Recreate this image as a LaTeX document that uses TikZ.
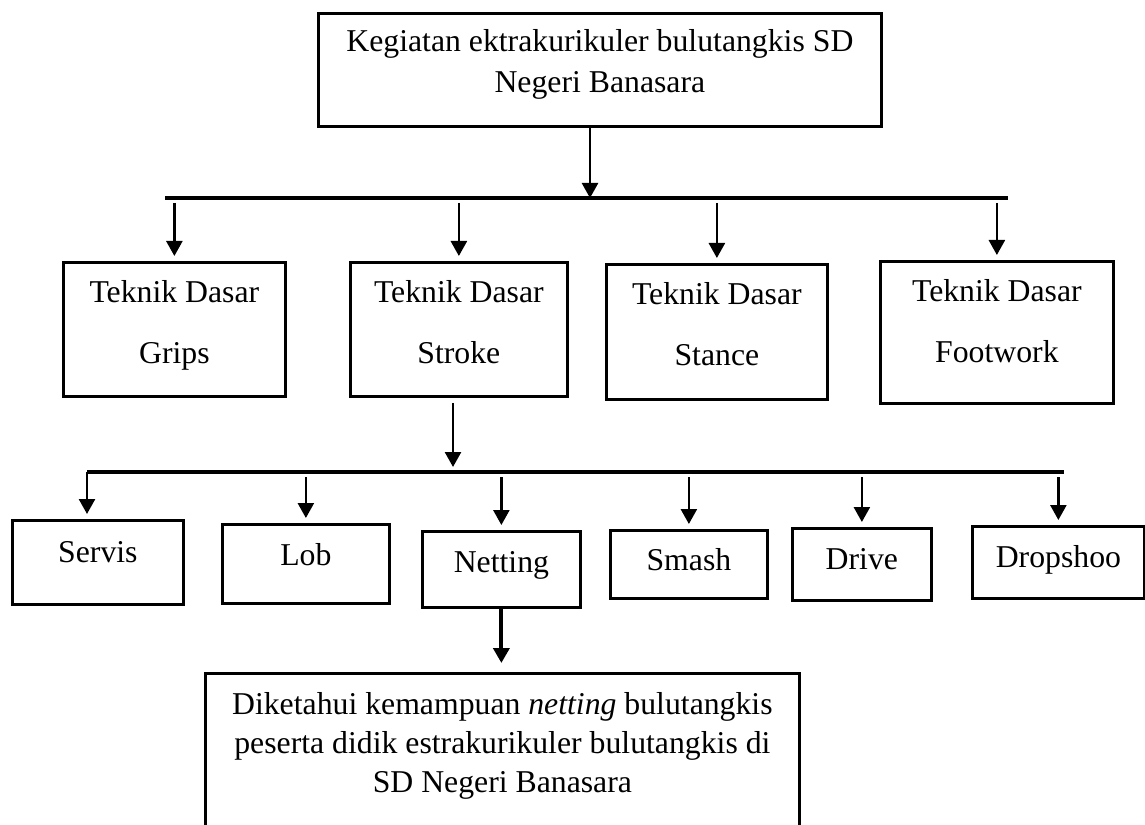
\documentclass[tikz,border=0pt]{standalone}
\usepackage{fontspec}
\setmainfont{Liberation Serif}
\usetikzlibrary{arrows.meta}

\newcommand{\boxlines}[1]{\begin{tabular}[t]{@{}c@{}}#1\end{tabular}}

\begin{document}
\begin{tikzpicture}[x=0.4pt, y=-0.4pt, >={Triangle[width=6.4pt,length=6pt]}]
    \tikzstyle{box}=[draw, line width=1.1pt, anchor=north west, inner sep=0pt, font=\fontsize{12.7}{24.4}\selectfont]
    \tikzstyle{arr}=[->, line width=1pt, shorten <=2pt, shorten >=2pt]
    \tikzstyle{bar}=[line width=1.7pt]

    \useasboundingbox (0,0) rectangle (1145,825);

    % Draw the top box
    \node[box, minimum width=225.2pt, text height=15.2pt, text depth=30pt, font=\fontsize{12.7}{16.4}\selectfont] (top) at (317,12)
        {\boxlines{Kegiatan ektrakurikuler bulutangkis SD\\Negeri Banasara}};

    % Draw the basic technique boxes
    \node[box, minimum width=88.8pt, text height=16pt, text depth=37.6pt] (grips) at (62,261) {\boxlines{Teknik Dasar\\Grips}};
    \node[box, minimum width=86.8pt, text height=16pt, text depth=37.6pt] (stroke) at (349,261) {\boxlines{Teknik Dasar\\Stroke}};
    \node[box, minimum width=88.4pt, text height=16pt, text depth=38pt] (stance) at (605,263) {\boxlines{Teknik Dasar\\Stance}};
    \node[box, minimum width=93.2pt, text height=16pt, text depth=40.8pt] (footwork) at (879,260) {\boxlines{Teknik Dasar\\Footwork}};

    % Draw the stroke boxes
    \node[box, minimum width=68.4pt, text height=16.8pt, text depth=16.8pt] (servis) at (11,519) {Servis};
    \node[box, minimum width=66.8pt, text height=16.4pt, text depth=15.2pt] (lob) at (221,523) {Lob};
    \node[box, minimum width=63.2pt, text height=16.4pt, text depth=14pt] (netting) at (421,530) {Netting};
    \node[box, minimum width=62.8pt, text height=16pt, text depth=11.2pt] (smash) at (609,529) {Smash};
    \node[box, minimum width=55.6pt, text height=16.4pt, text depth=12.4pt] (drive) at (791,527) {Drive};
    \node[box, minimum width=68.8pt, text height=16.4pt, text depth=12.4pt] (dropshoo) at (971,525) {Dropshoo};

    % Draw the result box
    \node[box, minimum width=237.6pt, text height=16.4pt, text depth=48.8pt, font=\fontsize{12.7}{15.6}\selectfont] (result) at (204,672)
        {\boxlines{Diketahui kemampuan \textit{netting} bulutangkis\\peserta didik estrakurikuler bulutangkis di\\SD Negeri Banasara}};

    % Branch bars
    \coordinate (b1) at (590,198);
    \coordinate (b1L) at (165,198);
    \coordinate (b1R) at (1008,198);
    \coordinate (b2) at (453,472);
    \coordinate (b2L) at (87,472);
    \coordinate (b2R) at (1064,472);
    \draw[bar] (b1L) -- (b1R);
    \draw[bar] (b2L) -- (b2R);

    % Connect the top box with the basic techniques
    \draw[arr, shorten <=0pt, shorten >=0pt] (top.south -| b1) -- (b1);
    \foreach \dest in {grips,stroke,stance,footwork}
        \draw[arr] (\dest.north |- b1) -- (\dest.north);

    % Connect stroke with its kinds
    \draw[arr] (stroke.south -| b2) -- (b2);
    \draw[arr, shorten <=0pt] (b2L) -- (servis.north -| b2L);
    \foreach \dest in {lob,netting,smash,drive,dropshoo}
        \draw[arr] (\dest.north |- b2) -- (\dest.north);

    % Netting leads to the result
    \draw[arr, line width=1.6pt, shorten <=0pt, shorten >=3.6pt] (netting.south) -- (netting.south |- result.north);
\end{tikzpicture}
\end{document}
